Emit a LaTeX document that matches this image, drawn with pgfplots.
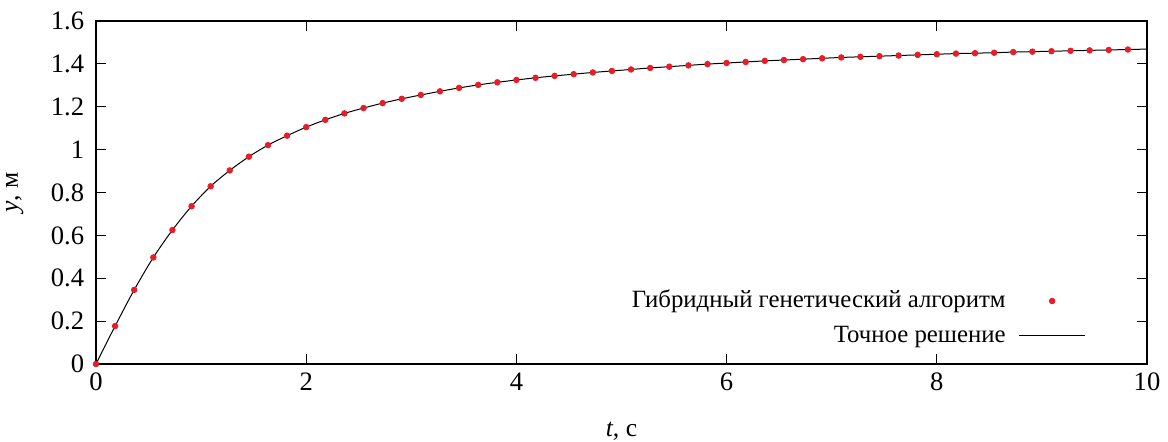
\documentclass[border=0pt]{standalone}
\usepackage{fontspec}
\setmainfont{Liberation Serif}
\newfontfamily\tnr{Liberation Serif}
\usepackage{pgfplots}
\usepackage{pgfplotstable}
\pgfplotsset{compat=1.18}
\definecolor{dotred}{RGB}{230,30,40}
\newcommand{\ff}{\tnr\fontsize{12.8}{15}\selectfont}
\newcommand{\fft}{\tnr\fontsize{13.3}{15}\selectfont}
\newcommand{\ffl}{\tnr\fontsize{12.4}{15}\selectfont}
\pgfplotsset{
  dotlegend/.style={legend image code/.code={\draw[mark repeat=2,mark phase=2,##1] plot coordinates {(0cm,0cm) (0.58cm,0cm) (1.16cm,0cm)};}},
  linelegend/.style={legend image code/.code={\draw[##1] (0cm,0cm) -- (1.16cm,0cm);}},
}
\pgfplotstableread{
t y
0 0
0.1818 0.177
0.3636 0.346
0.5455 0.497
0.7273 0.625
0.9091 0.736
1.0909 0.829
1.2727 0.903
1.4545 0.967
1.6364 1.021
1.8182 1.065
2.0 1.105
2.1818 1.139
2.3636 1.169
2.5455 1.194
2.7273 1.217
2.9091 1.237
3.0909 1.255
3.2727 1.272
3.4545 1.288
3.6364 1.302
3.8182 1.314
4.0 1.325
4.1818 1.335
4.3636 1.344
4.5455 1.352
4.7273 1.360
4.9091 1.367
5.0909 1.374
5.2727 1.381
5.4545 1.387
5.6364 1.393
5.8182 1.399
6.0 1.404
6.1818 1.409
6.3636 1.414
6.5455 1.418
6.7273 1.422
6.9091 1.426
7.0909 1.430
7.2727 1.433
7.4545 1.436
7.6364 1.439
7.8182 1.442
8.0 1.445
8.1818 1.448
8.3636 1.450
8.5455 1.452
8.7273 1.455
8.9091 1.457
9.0909 1.459
9.2727 1.461
9.4545 1.463
9.6364 1.465
9.8182 1.467
}\gadata
\pgfplotstableread{
t y
0 0
0.1818 0.177
0.3636 0.346
0.5455 0.497
0.7273 0.625
0.9091 0.736
1.0909 0.829
1.2727 0.903
1.4545 0.967
1.6364 1.021
1.8182 1.065
2.0 1.105
2.1818 1.139
2.3636 1.169
2.5455 1.194
2.7273 1.217
2.9091 1.237
3.0909 1.255
3.2727 1.272
3.4545 1.288
3.6364 1.302
3.8182 1.314
4.0 1.325
4.1818 1.335
4.3636 1.344
4.5455 1.352
4.7273 1.360
4.9091 1.367
5.0909 1.374
5.2727 1.381
5.4545 1.387
5.6364 1.393
5.8182 1.399
6.0 1.404
6.1818 1.409
6.3636 1.414
6.5455 1.418
6.7273 1.422
6.9091 1.426
7.0909 1.430
7.2727 1.433
7.4545 1.436
7.6364 1.439
7.8182 1.442
8.0 1.445
8.1818 1.448
8.3636 1.450
8.5455 1.452
8.7273 1.455
8.9091 1.457
9.0909 1.459
9.2727 1.461
9.4545 1.463
9.6364 1.465
9.8182 1.467
10.0 1.469
}\exact
\begin{document}
\ff
\begin{tikzpicture}
\useasboundingbox (-48pt,-38.5pt) rectangle (536pt,182pt);
\begin{axis}[
  scale only axis,
  width=525.5pt, height=171.5pt,
  xmin=0, xmax=10, ymin=0, ymax=1.6,
  xtick={0,2,4,6,8,10},
  ytick={0,0.2,0.4,0.6,0.8,1,1.2,1.4,1.6},
  xticklabels={0,2,4,6,8,10},
  yticklabels={0,0.2,0.4,0.6,0.8,1,1.2,1.4,1.6},
  tick align=inside,
  major tick length=5pt,
  tick style={black, line width=0.6pt},
  axis line style={black, line width=0.8pt},
  /pgf/number format/assume math mode=true,
  ticklabel style={font=\fft},
  yticklabel style={xshift=-1.5pt},
  label style={font=\ff},
  xlabel={\textit{t}, с},
  ylabel={\textit{y}, м},
  xlabel style={yshift=-7pt},
  ylabel style={yshift=5pt},
  legend plot pos=right,
  legend cell align=right,
  legend style={draw=none, fill=none, at={(0.942,0.04)}, anchor=south east,
    font=\ffl, row sep=3pt, inner sep=0pt},
]
\addplot[only marks, mark=*, mark size=1.4pt, color=dotred, dotlegend]
  table[x=t,y=y] {\gadata};
\addlegendentry{Гибридный генетический алгоритм\rule{4.5pt}{0pt}}
\addplot[black, line width=0.5pt, smooth, no markers, linelegend]
  table[x=t,y=y] {\exact};
\addlegendentry{Точное решение\rule{4.5pt}{0pt}}
\end{axis}
\end{tikzpicture}
\end{document}
